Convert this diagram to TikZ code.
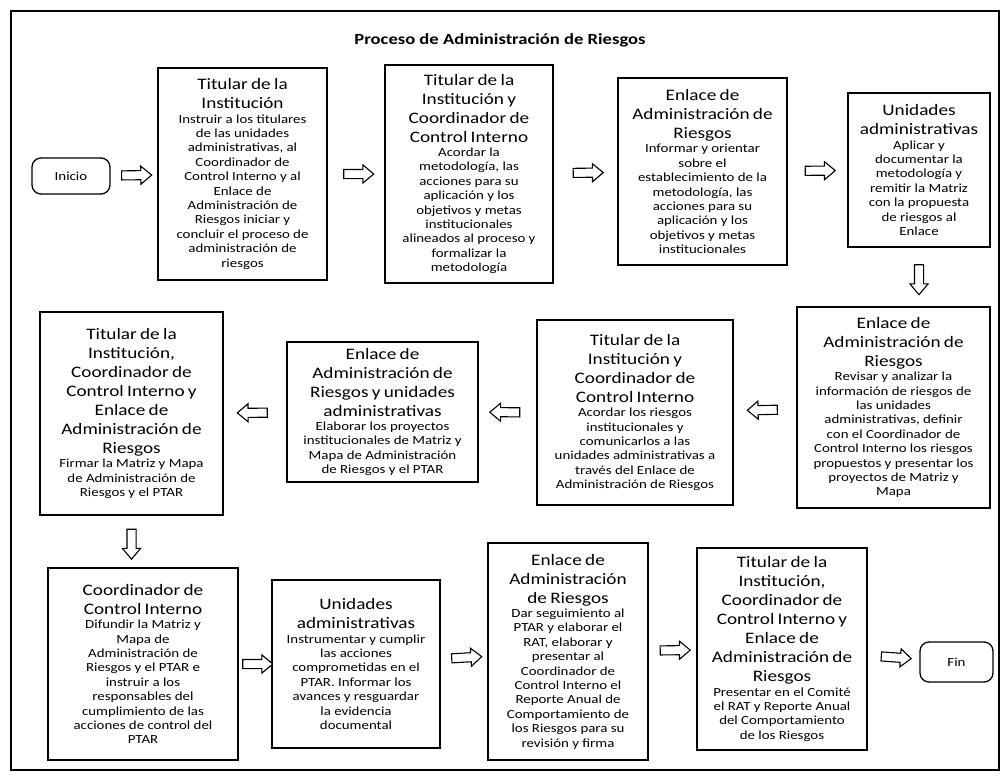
\documentclass[tikz,border=0pt]{standalone}
\usepackage{fontspec}
\setmainfont{Carlito}[FakeStretch=1.2]
\usetikzlibrary{shapes.arrows}

\newcommand{\fcab}{\fontsize{16}{19}\selectfont}
\newcommand{\fcue}{\fontsize{12.4}{14.4}\selectfont}
\newcommand{\bloque}[2]{{\fcab #1\par}{\fcue #2\par}}

\tikzset{
    caja/.style 2 args={draw, line width=1.5pt, text width=#1-2pt, minimum height=#2,
        inner xsep=1pt, inner ysep=0pt, align=center},
    extremo/.style 2 args={draw, line width=1.3pt, rounded corners=9pt,
        minimum width=#1, minimum height=#2, font=\fcue},
    flecha/.style={single arrow, draw, line width=1.1pt, fill=white, inner xsep=0pt,
        inner ysep=4pt, minimum height=30pt, single arrow head extend=4.5pt,
        single arrow tip angle=80, sloped, allow upside down}
}

\begin{document}
\begin{tikzpicture}[x=1pt, y=-1pt]
        \useasboundingbox (0, 0) rectangle (1002, 776);
        \draw[line width=1.2pt] (11, 11) rectangle (999, 770);

        \node[font=\fontsize{15.5}{18}\selectfont\bfseries] (titulo) at (500, 40) {Proceso de Administración de Riesgos};

        \node[extremo={78pt}{36pt}] (inicio) at (71, 176) {Inicio};
        \node[caja={169pt}{212pt}] (b1) at (242.5, 174) {\bloque{Titular de la\\Institución}{Instruir a los titulares\\de las unidades\\administrativas, al\\Coordinador de\\Control Interno y al\\Enlace de\\Administración de\\Riesgos iniciar y\\concluir el proceso de\\administración de\\riesgos}};
        \node[caja={168pt}{218pt}] (b2) at (469, 174) {\bloque{Titular de la\\Institución y\\Coordinador de\\Control Interno}{Acordar la\\metodología, las\\acciones para su\\aplicación y los\\objetivos y metas\\institucionales\\alineados al proceso y\\formalizar la\\metodología}};
        \node[caja={169pt}{187pt}] (b3) at (702.5, 171.5) {\bloque{Enlace de\\Administración de\\Riesgos}{Informar y orientar\\sobre el\\establecimiento de la\\metodología, las\\acciones para su\\aplicación y los\\objetivos y metas\\institucionales}};
        \node[caja={142pt}{154pt}] (b4) at (919, 170) {\bloque{Unidades\\administrativas}{Aplicar y\\documentar la\\metodología y\\remitir la Matriz\\con la propuesta\\de riesgos al\\Enlace}};

        \node[caja={193pt}{201pt}] (b5) at (893.5, 407.5) {\bloque{Enlace de\\Administración de\\Riesgos}{Revisar y analizar la\\información de riesgos de\\las unidades\\administrativas, definir\\con el Coordinador de\\Control Interno los riesgos\\propuestos y presentar los\\proyectos de Matriz y\\Mapa}};
        \node[caja={196pt}{185pt}] (b6) at (635, 412.5) {\bloque{Titular de la\\Institución y\\Coordinador de\\Control Interno}{Acordar los riesgos\\institucionales y\\comunicarlos a las\\unidades administrativas a\\través del Enlace de\\Administración de Riesgos}};
        \node[caja={191pt}{140pt}] (b7) at (382.5, 412) {\bloque{Enlace de\\Administración de\\Riesgos y unidades\\administrativas}{Elaborar los proyectos\\institucionales de Matriz y\\Mapa de Administración\\de Riesgos y el PTAR}};
        \node[caja={183pt}{203pt}] (b8) at (131.5, 413.5) {\bloque{Titular de la\\Institución,\\Coordinador de\\Control Interno y\\Enlace de\\Administración de\\Riesgos}{Firmar la Matriz y Mapa\\de Administración de\\Riesgos y el PTAR}};

        \node[caja={190pt}{192pt}] (b9) at (143, 664) {\bloque{Coordinador de\\Control Interno}{Difundir la Matriz y\\Mapa de\\Administración de\\Riesgos y el PTAR e\\instruir a los\\responsables del\\cumplimiento de las\\acciones de control del\\PTAR}};
        \node[caja={168pt}{168pt}] (b10) at (356, 664) {\bloque{Unidades\\administrativas}{Instrumentar y cumplir\\las acciones\\comprometidas en el\\PTAR. Informar los\\avances y resguardar\\la evidencia\\documental}};
        \node[caja={160pt}{217pt}] (b11) at (568, 651.5) {\bloque{Enlace de\\Administración\\de Riesgos}{Dar seguimiento al\\PTAR y elaborar el\\RAT, elaborar y\\presentar al\\Coordinador de\\Control Interno el\\Reporte Anual de\\Comportamiento de\\los Riesgos para su\\revisión y firma}};
        \node[caja={170pt}{202pt}] (b12) at (782, 649) {\bloque{Titular de la\\Institución,\\Coordinador de\\Control Interno y\\Enlace de\\Administración de\\Riesgos}{Presentar en el Comité\\el RAT y Reporte Anual\\del Comportamiento\\de los Riesgos}};
        \node[extremo={73pt}{40pt}] (fin) at (956.5, 662) {Fin};

        \path (inicio) -- node[flecha] (f1) {} (b1);
        \path (b1) -- node[flecha] (f2) {} (b2);
        \path (b2) -- node[flecha] (f3) {} (b3);
        \path (b3) -- node[flecha] (f4) {} (b4);
        \path (b4.south) -- node[flecha] (f5) {} (b4.south |- b5.north);
        \path (b5) -- node[flecha] (f6) {} (b6);
        \path (b6) -- node[flecha] (f7) {} (b7);
        \path (b7) -- node[flecha] (f8) {} (b8);
        \path (b8.south) -- node[flecha] (f9) {} (b8.south |- b9.north);
        \path (b9) -- node[flecha] (f10) {} (b10);
        \path (b10) -- node[flecha] (f11) {} (b11);
        \path (b11) -- node[flecha] (f12) {} (b12);
        \path (b12) -- node[flecha] (f13) {} (fin);

    \end{tikzpicture}
\end{document}
